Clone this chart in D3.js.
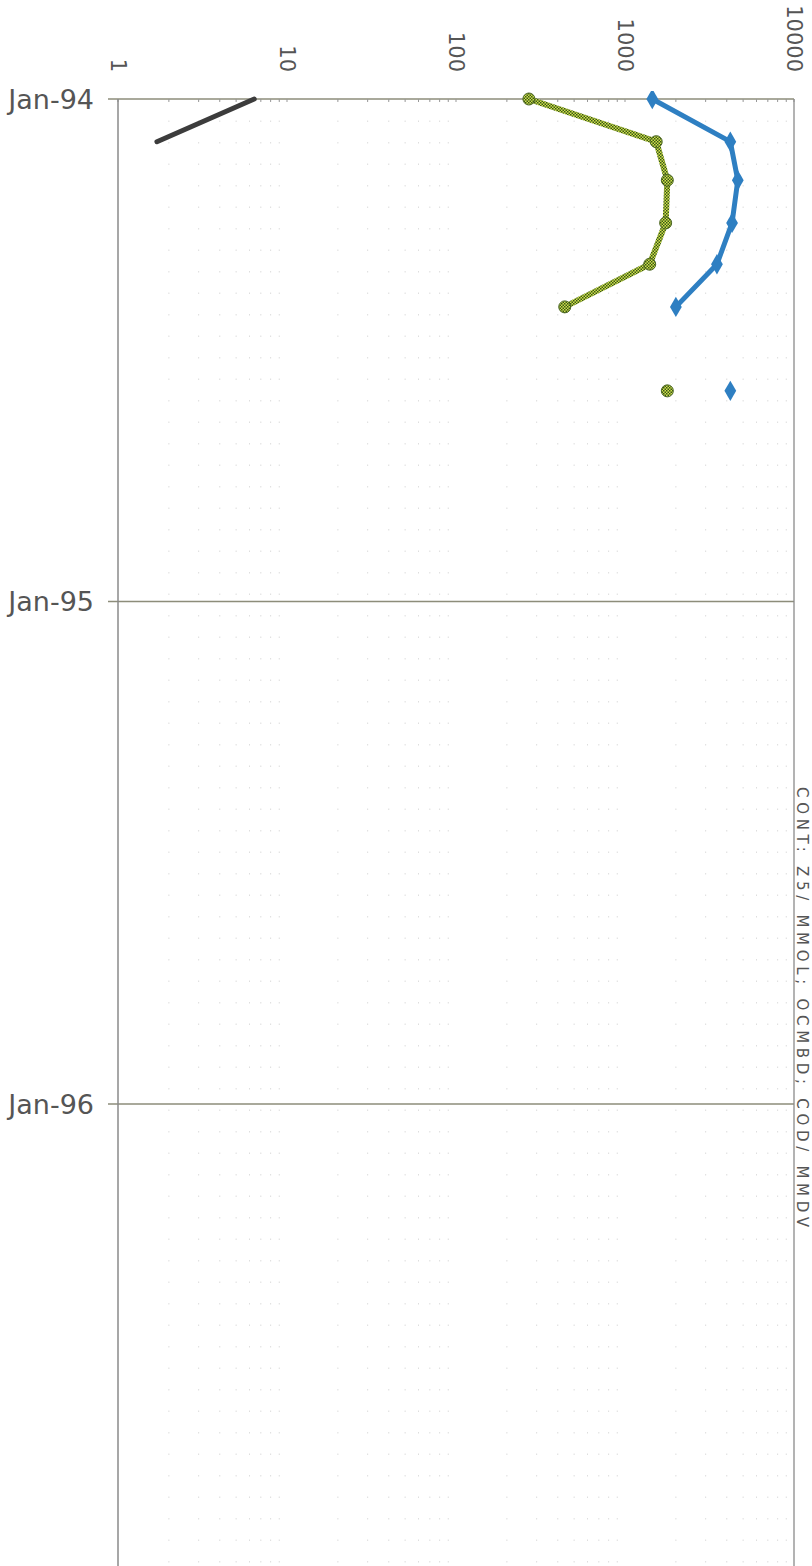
<!DOCTYPE html>
<html><head><meta charset="utf-8">
<script src="https://cdn.jsdelivr.net/npm/d3@7"></script>
<style>
html,body{margin:0;padding:0;background:#fff;overflow:hidden;}
svg{display:block;}
</style></head>
<body>
<script>
// ---- data ----
const months = ["1994-01","1994-02","1994-03","1994-04","1994-05","1994-06","1994-07","1994-08"];
const blueValues  = [1450, 4200, 4650, 4300, 3500, 2000, null, 4200];
const greenValues = [270, 1530, 1780, 1740, 1400, 440, null, 1780];
const blackValues = [6.4, 1.7, null, null, null, null, null, null];
const logTicks = [1, 10, 100, 1000, 10000];
const dateTicks = ["1994-01","1995-01","1996-01"];
const titleText = "CONT: Z5/ MMOL; OCMBD; COD/ MMDV";

const W = 812, H = 1566;
const pL = 118, pR = 794, pT = 99;
const parse = d3.utcParse("%Y-%m");

const svg = d3.select("body").append("svg").attr("width", W).attr("height", H);
const defs = svg.append("defs");

// checkered pattern for green series
const pat = defs.append("pattern").attr("id","chk").attr("patternUnits","userSpaceOnUse")
  .attr("width",3).attr("height",3);
pat.append("rect").attr("width",3).attr("height",3).attr("fill","#cfe34a");
pat.append("rect").attr("width",1.5).attr("height",1.5).attr("fill","#3a5418");
pat.append("rect").attr("x",1.5).attr("y",1.5).attr("width",1.5).attr("height",1.5).attr("fill","#3a5418");

const x = d3.scaleLog().domain([1, 10000]).range([pL, pR]);
const y = d3.scaleUtc().domain([parse("1994-01"), parse("1996-01")]).range([pT, 1104]);

defs.append("clipPath").attr("id","plot").append("rect")
  .attr("x",pL).attr("y",pT-8).attr("width",pR-pL+8).attr("height",H);

// faint dotted minor grid (log minor positions)
const minor = [];
for (let d = 1; d < 10000; d *= 10) for (let k = 2; k <= 9; k++) minor.push(d*k);
svg.append("g").selectAll("line").data(minor).join("line")
  .attr("x1", d => x(d)).attr("x2", d => x(d))
  .attr("y1", pT).attr("y2", H)
  .attr("stroke", "#d6d6d6").attr("stroke-width", 1)
  .attr("stroke-dasharray", "1.5,20").attr("opacity", 0.8);

// horizontal gridlines (year)
const yearLines = dateTicks.map(parse);
svg.append("g").selectAll("line").data(yearLines.slice(1)).join("line")
  .attr("x1", pL - 10).attr("x2", pR)
  .attr("y1", d => y(d)).attr("y2", d => y(d))
  .attr("stroke", "#8d8d7a").attr("stroke-width", 1.3);

// top axis line with minor ticks
svg.append("line").attr("x1", pL - 10).attr("x2", pR).attr("y1", pT).attr("y2", pT)
  .attr("stroke", "#8d8d7a").attr("stroke-width", 1.3);
svg.append("g").selectAll("line").data(minor.concat(logTicks)).join("line")
  .attr("x1", d => x(d)).attr("x2", d => x(d))
  .attr("y1", pT).attr("y2", pT + 3)
  .attr("stroke", "#999").attr("stroke-width", 1);

// left / right borders
svg.append("line").attr("x1", pL).attr("x2", pL).attr("y1", pT).attr("y2", H)
  .attr("stroke", "#8a8a8a").attr("stroke-width", 1.5);
svg.append("line").attr("x1", pR).attr("x2", pR).attr("y1", pT).attr("y2", H)
  .attr("stroke", "#8a8a8a").attr("stroke-width", 1.3);

// top log labels (rotated)
svg.append("g").selectAll("text").data(logTicks).join("text")
  .attr("transform", d => `translate(${x(d)},72) rotate(90)`)
  .attr("text-anchor", "end").attr("dy", "0.35em")
  .attr("font-family", "DejaVu Sans").attr("font-size", 21).attr("fill", "#555")
  .text(d => d3.format("d")(d));

// date labels
svg.append("g").selectAll("text").data(yearLines).join("text")
  .attr("x", 94).attr("y", d => y(d)).attr("dy", "0.36em")
  .attr("text-anchor", "end")
  .attr("font-family", "DejaVu Sans").attr("font-size", 27).attr("fill", "#555")
  .text(d => d3.utcFormat("%b-%y")(d));

// title, rotated along right edge
svg.append("text").attr("transform", "translate(797,787) rotate(90)")
  .attr("font-family", "DejaVu Sans").attr("font-size", 15).attr("fill", "#555")
  .attr("textLength", 440).attr("lengthAdjust", "spacing")
  .text(titleText);

const g = svg.append("g").attr("clip-path", "url(#plot)");
const dates = months.map(parse);
function series(vals) { return dates.map((d, i) => ({d, v: vals[i]})); }
const line = d3.line().defined(p => p.v != null).x(p => x(p.v)).y(p => y(p.d));

// black
g.append("path").datum(series(blackValues)).attr("d", line)
  .attr("fill","none").attr("stroke","#3c3c3c").attr("stroke-width",5).attr("stroke-linecap","round");

// green
const gs = series(greenValues);
g.append("path").datum(gs).attr("d", line)
  .attr("fill","none").attr("stroke","url(#chk)").attr("stroke-width",6).attr("stroke-linejoin","round");
g.append("g").selectAll("circle").data(gs.filter(p => p.v != null)).join("circle")
  .attr("cx", p => x(p.v)).attr("cy", p => y(p.d)).attr("r", 6)
  .attr("fill","url(#chk)").attr("stroke","#4a6522").attr("stroke-width",1);

// blue
const bs = series(blueValues);
g.append("path").datum(bs).attr("d", line)
  .attr("fill","none").attr("stroke","#2e7fc2").attr("stroke-width",5).attr("stroke-linejoin","round");
g.append("g").selectAll("path.m").data(bs.filter(p => p.v != null)).join("path")
  .attr("class","m")
  .attr("transform", p => `translate(${x(p.v)},${y(p.d)})`)
  .attr("d", d3.symbol(d3.symbolDiamond, 120)())
  .attr("fill","#2e7fc2");
</script>
</body></html>
